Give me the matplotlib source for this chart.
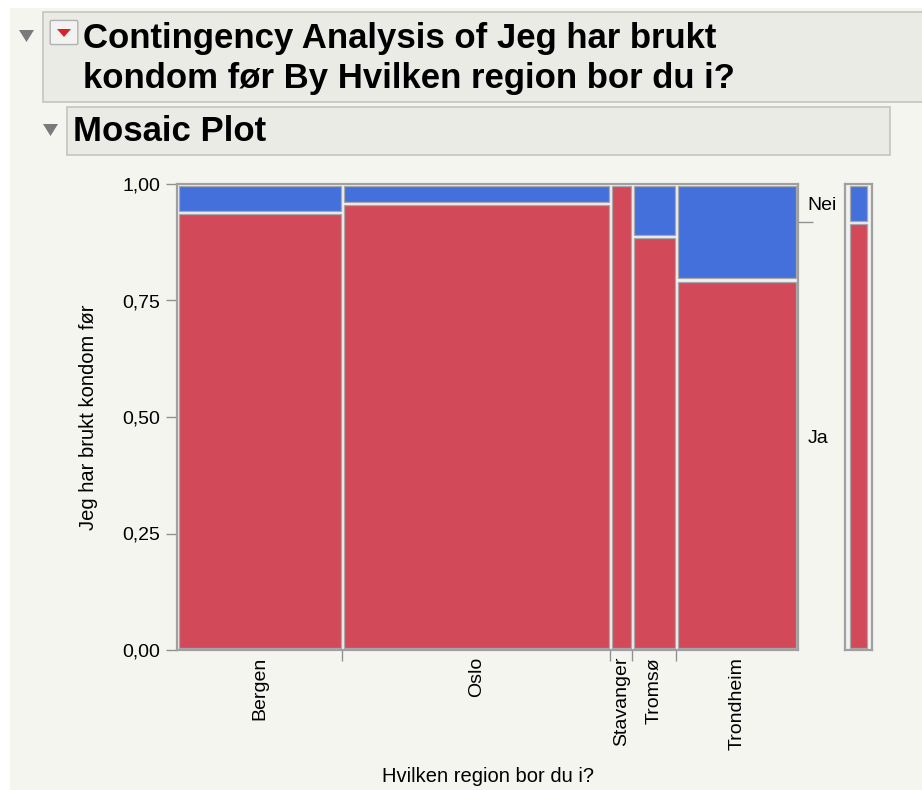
import numpy as np
import matplotlib
matplotlib.use("Agg")
import matplotlib.pyplot as plt
from matplotlib.patches import Rectangle, Polygon, FancyBboxPatch

plt.rcParams["font.family"] = ["Liberation Sans", "DejaVu Sans"]

# data
regions = ["Bergen", "Oslo", "Stavanger", "Tromsø", "Trondheim"]
region_share = [0.266, 0.432, 0.035, 0.071, 0.196]
ja_share = [0.938, 0.959, 1.0, 0.888, 0.794]
responses = ["Ja", "Nei"]
yticks = [0.0, 0.25, 0.5, 0.75, 1.0]
ytick_labels = ["0,00", "0,25", "0,50", "0,75", "1,00"]

RED = "#d24a5a"
BLUE = "#4370da"
EDGE = "#a8a8a8"

W, H = 922, 790
fig = plt.figure(figsize=(W / 100, H / 100), dpi=100)
fig.patch.set_facecolor("white")


def fx(x):
    return x / W


def fy(y):
    return 1 - y / H


def frect(x0, y0, x1, y1, **kw):
    r = Rectangle((fx(x0), fy(y1)), fx(x1) - fx(x0), fy(y0) - fy(y1),
                  transform=fig.transFigure, zorder=-5, **kw)
    fig.patches.append(r)
    return r


def ftri(x, y, w, h, color):
    pts = [(fx(x), fy(y)), (fx(x + w), fy(y)), (fx(x + w / 2), fy(y + h))]
    fig.patches.append(Polygon(pts, closed=True, transform=fig.transFigure,
                               facecolor=color, edgecolor="none", zorder=-4))


# report background and header boxes
frect(10, 8, 922, 790, facecolor="#f5f5f0", edgecolor="none")
frect(43, 12, 935, 102, facecolor="#ebebe6", edgecolor="#c4c4c0", lw=1.2)
frect(67, 107, 890, 155, facecolor="#ebebe6", edgecolor="#c4c4c0", lw=1.2)
ftri(19, 30, 15, 12, "#7a7a7a")
ftri(43, 124, 15, 12, "#7a7a7a")
fig.patches.append(FancyBboxPatch((fx(52), fy(43)), fx(24), fy(22) - fy(43),
                                  boxstyle="round,pad=0.002", transform=fig.transFigure,
                                  facecolor="#f2f2f0", edgecolor="#b0b0b0", lw=1, zorder=-4))
ftri(57, 29, 14, 8, "#d8222a")

fig.text(fx(83), fy(48), "Contingency Analysis of Jeg har brukt",
         fontsize=25, fontweight="bold", va="baseline", ha="left")
fig.text(fx(83), fy(88), "kondom før By Hvilken region bor du i?",
         fontsize=25, fontweight="bold", va="baseline", ha="left")
fig.text(fx(73), fy(141), "Mosaic Plot",
         fontsize=25, fontweight="bold", va="baseline", ha="left")

# main mosaic
L, R, T, B = 177, 798, 184, 650
ax = fig.add_axes([fx(L), fy(B), fx(R) - fx(L), fy(T) - fy(B)])
ax.set_facecolor("#f2f2f2")
ax.set_xlim(0, 1)
ax.set_ylim(0, 1)

gx = 1.6 / (R - L)
gy = 1.6 / (B - T)
edges = np.concatenate([[0], np.cumsum(region_share)])
edges = edges / edges[-1]
for i in range(len(regions)):
    x0, x1 = edges[i], edges[i + 1]
    ja = ja_share[i]
    ax.add_patch(Rectangle((x0 + gx, gy), x1 - x0 - 2 * gx, ja - 2 * gy,
                           facecolor=RED, edgecolor=EDGE, lw=0.9))
    if ja < 1:
        ax.add_patch(Rectangle((x0 + gx, ja + gy), x1 - x0 - 2 * gx, 1 - ja - 2 * gy,
                               facecolor=BLUE, edgecolor=EDGE, lw=0.9))

for s in ax.spines.values():
    s.set_color("#a0a0a0")
    s.set_linewidth(1.6)

ax.set_yticks(yticks)
ax.set_yticklabels(ytick_labels, fontsize=14)
ax.set_xticks(edges[1:-1])
ax.set_xticklabels([])
centers = (edges[:-1] + edges[1:]) / 2
ax.set_xticks(centers, minor=True)
ax.set_xticklabels(regions, minor=True, rotation=90, fontsize=14, va="top")
ax.tick_params(axis="x", which="major", length=8, color="#909090", width=1)
ax.tick_params(axis="x", which="minor", length=0, pad=5)
ax.tick_params(axis="y", length=8, color="#909090", width=1, pad=4)

# overall share, right hand labels
overall_ja = float(np.dot(region_share, ja_share) / np.sum(region_share))
ax2 = ax.twinx()
ax2.set_ylim(0, 1)
ax2.set_yticks([overall_ja])
ax2.set_yticklabels([])
ax2.set_yticks([overall_ja / 2, (1 + overall_ja) / 2], minor=True)
ax2.set_yticklabels(responses, minor=True, fontsize=14)
ax2.tick_params(axis="y", which="major", length=11, color="#909090", width=1)
ax2.tick_params(axis="y", which="minor", length=0, pad=7)
for s in ax2.spines.values():
    s.set_visible(False)

# marginal bar
axm = fig.add_axes([fx(845), fy(B), fx(872) - fx(845), fy(T) - fy(B)])
axm.set_facecolor("#f2f2f2")
axm.set_xlim(0, 1)
axm.set_ylim(0, 1)
mgx = 1.6 / 27
axm.add_patch(Rectangle((mgx + 0.12, gy), 1 - 2 * mgx - 0.24, overall_ja - 2 * gy,
                        facecolor=RED, edgecolor=EDGE, lw=0.9))
axm.add_patch(Rectangle((mgx + 0.12, overall_ja + gy), 1 - 2 * mgx - 0.24,
                        1 - overall_ja - 2 * gy, facecolor=BLUE, edgecolor=EDGE, lw=0.9))
axm.set_xticks([])
axm.set_yticks([])
for s in axm.spines.values():
    s.set_color("#a0a0a0")
    s.set_linewidth(1.6)

fig.text(fx(88), fy((T + B) / 2), "Jeg har brukt kondom før", rotation=90,
         fontsize=14.5, ha="center", va="center")
fig.text(fx((L + R) / 2), fy(776), "Hvilken region bor du i?",
         fontsize=14.5, ha="center", va="center")

fig.savefig("out.png", dpi=100, facecolor=fig.get_facecolor())
